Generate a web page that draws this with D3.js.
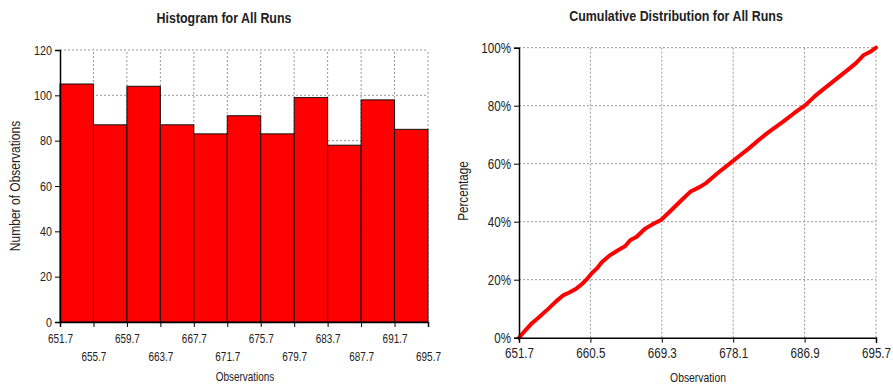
<!DOCTYPE html>
<html>
<head>
<meta charset="utf-8">
<script src="https://cdn.jsdelivr.net/npm/d3@7"></script>
<style>
  body { margin: 0; background: #fff; }
  text { font-family: "Liberation Sans", Arial, sans-serif; fill: #222; }
</style>
</head>
<body>
<div id="chart"></div>
<script>
// histogram bins
var binEdges = [651.7, 655.7, 659.7, 663.7, 667.7, 671.7, 675.7, 679.7, 683.7, 687.7, 691.7, 695.7];
var binCounts = [105, 87, 104, 87, 83, 91, 83, 99, 78, 98, 85];
var histYTicks = [0, 20, 40, 60, 80, 100, 120];

// cumulative curve (observation, percent)
var cdfX = [651.7, 652.4, 653.3, 654.3, 655.4, 656.3, 657.2, 657.9, 658.8, 659.5, 660.0, 660.7, 661.3, 661.9, 662.9, 663.8, 664.8, 665.4, 666.2, 667.2, 668.1, 669.2, 670.3, 671.5, 672.8, 674.0, 674.8, 676.2, 677.7, 679.0, 680.0, 681.0, 682.1, 683.1, 684.3, 685.6, 687.0, 688.2, 689.5, 690.9, 692.1, 693.2, 694.2, 695.0, 695.7];
var cdfY = [0, 2.3, 5.0, 7.4, 10.2, 12.6, 14.7, 15.6, 17.0, 18.6, 20.0, 22.3, 23.9, 26.0, 28.4, 30.0, 31.6, 33.6, 34.8, 37.5, 39.0, 40.6, 43.5, 46.8, 50.3, 52.0, 53.4, 56.8, 60.1, 63.0, 65.2, 67.6, 70.1, 72.2, 74.6, 77.4, 80.2, 83.4, 86.3, 89.4, 92.1, 94.6, 97.5, 98.6, 100];
var cdfXTicks = [651.7, 660.5, 669.3, 678.1, 686.9, 695.7];
var cdfYTicks = [0, 20, 40, 60, 80, 100];

var W = 893, H = 385;
var SX = 0.83; // the original font is a bit condensed
var svg = d3.select('#chart').append('svg').attr('width', W).attr('height', H);

function grid(g, xs, ys, x, y) {
  g.selectAll('line.vg').data(xs).enter().append('line')
    .attr('x1', function(d) { return x(d); }).attr('x2', function(d) { return x(d); })
    .attr('y1', y.range()[0]).attr('y2', y.range()[1])
    .attr('stroke', '#999').attr('stroke-dasharray', '2,2');
  g.selectAll('line.hg').data(ys).enter().append('line')
    .attr('x1', x.range()[0]).attr('x2', x.range()[1])
    .attr('y1', function(d) { return y(d); }).attr('y2', function(d) { return y(d); })
    .attr('stroke', '#999').attr('stroke-dasharray', '2,2');
}

function styleAxis(g, size) {
  g.selectAll('path.domain').attr('stroke', '#000').attr('stroke-width', 1.5);
  g.selectAll('.tick line').attr('stroke', '#000');
  g.selectAll('.tick text').style('font-size', size + 'px').attr('fill', '#222')
    .style('font-family', '"Liberation Sans", Arial, sans-serif')
    .each(function() {
      var t = d3.select(this);
      t.attr('x', (+t.attr('x') || 0) / SX).attr('transform', 'scale(' + SX + ',1)');
    });
}

function label(g, x, y, size, txt, bold, rot) {
  g.append('text')
    .attr('transform', 'translate(' + x + ',' + y + ')' + (rot ? ' rotate(-90)' : '') + ' scale(' + SX + ',1)')
    .attr('text-anchor', 'middle')
    .style('font-size', size + 'px').style('font-weight', bold ? 'bold' : 'normal')
    .text(txt);
}

// ---------- histogram ----------
var hx = d3.scaleLinear().domain([651.7, 695.7]).range([60, 428]);
var hy = d3.scaleLinear().domain([0, 120]).range([322, 50]);
var left = svg.append('g');

grid(left, binEdges.slice(1), histYTicks.slice(1), hx, hy);

left.selectAll('rect').data(binCounts).enter().append('rect')
  .attr('x', function(d, i) { return hx(binEdges[i]); })
  .attr('y', function(d) { return hy(d); })
  .attr('width', function(d, i) { return hx(binEdges[i + 1]) - hx(binEdges[i]); })
  .attr('height', function(d) { return hy(0) - hy(d); })
  .attr('fill', '#ff0000').attr('stroke', '#111').attr('stroke-width', 1);

var hxAxis = left.append('g').attr('transform', 'translate(0,322)')
  .call(d3.axisBottom(hx).tickValues(binEdges).tickSize(5).tickFormat(d3.format('.1f')));
hxAxis.selectAll('.tick text').attr('dy', function(d, i) { return i % 2 ? '2.58em' : '1.11em'; });
styleAxis(hxAxis, 12);
var hyAxis = left.append('g').attr('transform', 'translate(60,0)')
  .call(d3.axisLeft(hy).tickValues(histYTicks).tickSize(5));
styleAxis(hyAxis, 13);

label(left, 224, 23, 15, 'Histogram for All Runs', true);
label(left, 245, 381, 12, 'Observations');
label(left, 20, 186, 14.5, 'Number of Observations', false, true);

// ---------- cumulative ----------
var cx = d3.scaleLinear().domain([651.7, 695.7]).range([519, 876]);
var cy = d3.scaleLinear().domain([0, 100]).range([337.7, 47.7]);
var right = svg.append('g');

grid(right, cdfXTicks.slice(1), cdfYTicks.slice(1), cx, cy);

var pts = cdfX.map(function(d, i) { return [d, cdfY[i]]; });
right.append('path').datum(pts)
  .attr('d', d3.line().x(function(d) { return cx(d[0]); }).y(function(d) { return cy(d[1]); }))
  .attr('fill', 'none').attr('stroke', '#ff0000').attr('stroke-width', 4)
  .attr('stroke-linejoin', 'round').attr('stroke-linecap', 'round');

var cxAxis = right.append('g').attr('transform', 'translate(0,337.7)')
  .call(d3.axisBottom(cx).tickValues(cdfXTicks).tickSize(5).tickFormat(d3.format('.1f')));
cxAxis.selectAll('.tick text').attr('dy', '0.9em');
styleAxis(cxAxis, 14);
var cyAxis = right.append('g').attr('transform', 'translate(519,0)')
  .call(d3.axisLeft(cy).tickValues(cdfYTicks).tickSize(5).tickFormat(function(d) { return d + '%'; }));
styleAxis(cyAxis, 14);

label(right, 676, 21, 15, 'Cumulative Distribution for All Runs', true);
label(right, 698, 382, 12.5, 'Observation');
label(right, 468, 191, 14, 'Percentage', false, true);
</script>
</body>
</html>
